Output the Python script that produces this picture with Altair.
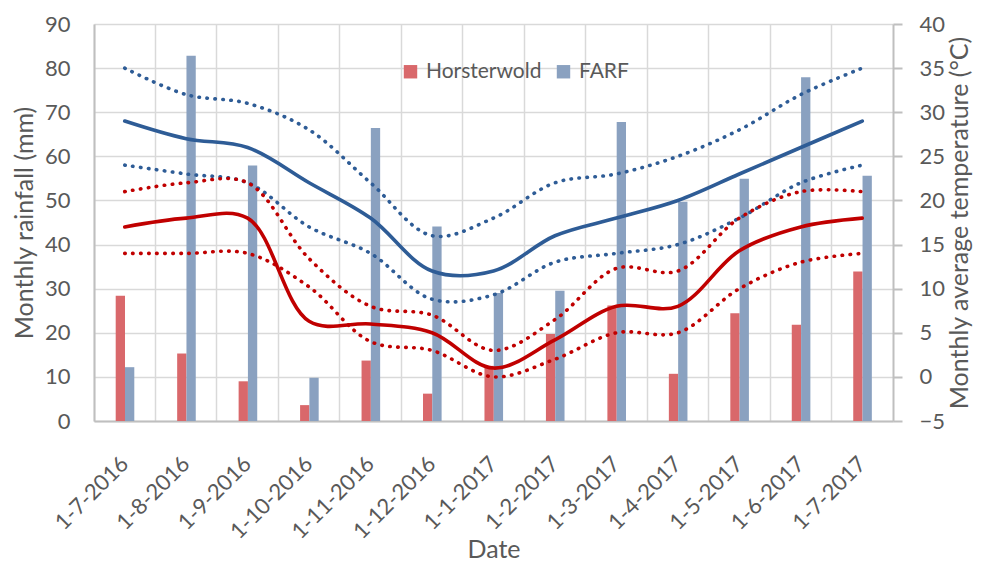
import altair as alt
import pandas as pd

dates = ["1-7-2016", "1-8-2016", "1-9-2016", "1-10-2016", "1-11-2016", "1-12-2016",
         "1-1-2017", "1-2-2017", "1-3-2017", "1-4-2017", "1-5-2017", "1-6-2017", "1-7-2017"]

# Monthly rainfall (mm)
rain_horsterwold = [28.4, 15.3, 9.0, 3.6, 13.7, 6.2, 12.5, 19.7, 26.2, 10.7, 24.4, 21.8, 33.9]
rain_farf = [12.2, 82.8, 57.9, 9.8, 66.4, 44.1, 29.0, 29.5, 67.8, 49.7, 54.9, 77.9, 55.6]

# Monthly temperatures (°C)
farf_avg = [29, 27, 26, 22, 18, 12, 12, 16, 18, 20, 23, 26, 29]
farf_max = [35, 32, 31, 28, 22, 16, 18, 22, 23, 25, 28, 32, 35]
farf_min = [24, 23, 22, 17, 14, 8.8, 9.3, 13, 14, 15, 18, 22, 24]
hors_avg = [17, 18, 18, 6.3, 6, 5, 1, 4.2, 8, 8, 14.3, 17, 18]
hors_max = [21, 22, 22, 13.4, 8, 7, 3, 6.5, 12.3, 12, 18, 21, 21]
hors_min = [14, 14, 14, 10.2, 4, 3, 0, 2, 5, 5, 10, 13, 14]

RED_BAR = "#D9686B"
BLUE_BAR = "#8AA1C0"
RED_LINE = "#C00000"
BLUE_LINE = "#2E5C96"
TEXT = "#595959"
GRID = "#D9D9D9"
FONT = "Lato"
LABEL_SIZE = 22
TITLE_SIZE = 25
CURVE = "catmull-rom"

rain_rows = []
for d, h, f in zip(dates, rain_horsterwold, rain_farf):
    rain_rows.append({"date": d, "site": "Horsterwold", "rain": h})
    rain_rows.append({"date": d, "site": "FARF", "rain": f})
rain_df = pd.DataFrame(rain_rows)

temp_df = pd.DataFrame({
    "date": dates,
    "farf_avg": farf_avg, "farf_max": farf_max, "farf_min": farf_min,
    "hors_avg": hors_avg, "hors_max": hors_max, "hors_min": hors_min,
})

x_axis = alt.Axis(
    bandPosition=0, grid=True, gridColor=GRID, gridWidth=1.5,
    ticks=False, labelAngle=-45, labelAlign="right", labelBaseline="middle",
    labelPadding=39, labelFontSize=LABEL_SIZE, labelColor=TEXT, labelFont=FONT,
    titleFontSize=TITLE_SIZE, titleColor=TEXT, titleFont=FONT, titleFontWeight="normal",
    titleY=128, titleBaseline="middle",
    domainColor="#BFBFBF", domainWidth=2,
)


def x_enc():
    return alt.X("date:N", sort=dates, title="Date",
                 scale=alt.Scale(paddingInner=0, paddingOuter=0), axis=x_axis)


bars = alt.Chart(rain_df).mark_bar().encode(
    x=x_enc(),
    xOffset=alt.XOffset("site:N", sort=["Horsterwold", "FARF"],
                        scale=alt.Scale(range=[21.7, 40.3], paddingInner=0, paddingOuter=0)),
    y=alt.Y("rain:Q", title="Monthly rainfall (mm)",
            scale=alt.Scale(domain=[0, 90], nice=False),
            axis=alt.Axis(values=list(range(0, 91, 10)), grid=True, gridColor=GRID,
                          gridWidth=1.5, ticks=False, labelPadding=24,
                          labelFontSize=LABEL_SIZE, labelColor=TEXT, labelFont=FONT,
                          titleFontSize=TITLE_SIZE, titleColor=TEXT, titleFont=FONT,
                          titleFontWeight="normal", titleX=-70, titleBaseline="middle",
                          titleAngle=270, domainColor="#BFBFBF", domainWidth=2)),
    color=alt.Color("site:N", sort=["Horsterwold", "FARF"],
                    scale=alt.Scale(domain=["Horsterwold", "FARF"], range=[RED_BAR, BLUE_BAR]),
                    legend=alt.Legend(title=None, orient="none", legendX=306, legendY=37,
                                      direction="horizontal", symbolType="square",
                                      symbolSize=180, symbolStrokeWidth=0, labelFontSize=21,
                                      labelColor=TEXT, labelFont=FONT, columnPadding=11,
                                      labelOffset=5)),
)

temp_axis = alt.Axis(orient="right", values=list(range(-5, 41, 5)), grid=False,
                     tickSize=9, tickColor="#BFBFBF", tickWidth=2, labelPadding=17,
                     labelFontSize=LABEL_SIZE, labelColor=TEXT, labelFont=FONT,
                     titleFontSize=TITLE_SIZE, titleColor=TEXT, titleFont=FONT,
                     titleFontWeight="normal", titleX=66, titleBaseline="middle",
                     titleAngle=270, domainColor="#BFBFBF", domainWidth=2)


def tline(field, color, dotted):
    if dotted:
        props = dict(interpolate=CURVE, color=color, strokeWidth=3.6,
                     strokeDash=[0.5, 7.5], strokeCap="round")
    else:
        props = dict(interpolate=CURVE, color=color, strokeWidth=3.6, strokeCap="round")
    return alt.Chart(temp_df).mark_line(**props).encode(
        x=x_enc(),
        y=alt.Y(f"{field}:Q", title="Monthly average temperature (°C)",
                scale=alt.Scale(domain=[-5, 40], nice=False), axis=temp_axis),
    )


lines = alt.layer(
    tline("farf_max", BLUE_LINE, True),
    tline("farf_min", BLUE_LINE, True),
    tline("hors_max", RED_LINE, True),
    tline("hors_min", RED_LINE, True),
    tline("farf_avg", BLUE_LINE, False),
    tline("hors_avg", RED_LINE, False),
)

chart = alt.layer(bars, lines).resolve_scale(y="independent").properties(
    width=799, height=397,
    autosize=alt.AutoSizeParams(type="none"),
    padding={"left": 86, "top": 16, "right": 80, "bottom": 140},
    background="white",
).configure_view(stroke=None)

chart.save("out.html", embed_options={"renderer": "svg", "actions": False})
